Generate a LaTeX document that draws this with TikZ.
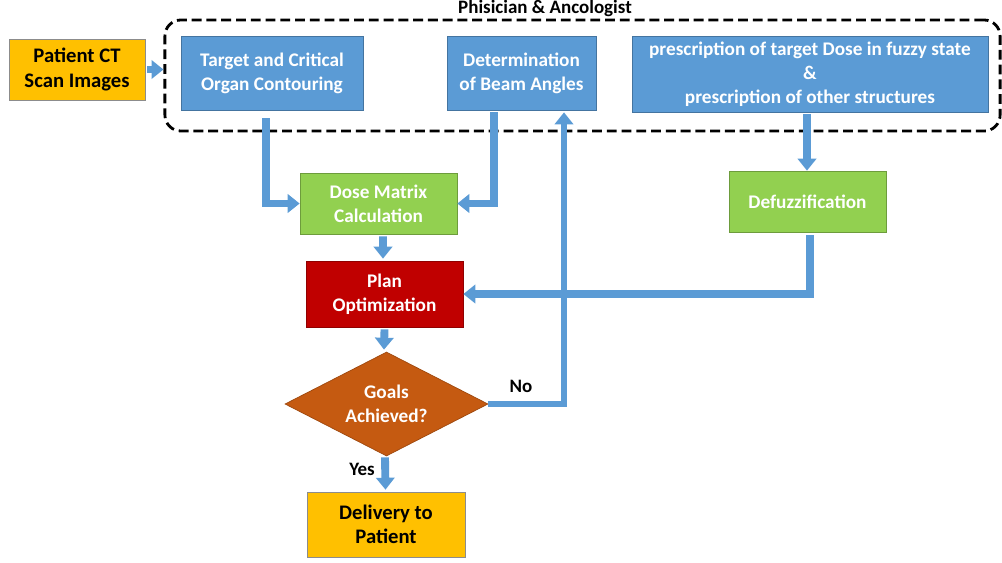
\documentclass[tikz,border=0pt]{standalone}
\usepackage{fontspec}
\setmainfont{Carlito}
\usepackage{xcolor}
\usetikzlibrary{calc,positioning,arrows.meta,shapes.geometric}
\definecolor{figBlue}{HTML}{5B9BD5}
\definecolor{figGreen}{HTML}{92D050}
\definecolor{figRed}{HTML}{C00000}
\definecolor{figOrange}{HTML}{C55A11}
\definecolor{figYellow}{HTML}{FFC000}

\begin{document}
\begin{tikzpicture}[
  x=0.025cm, y=-0.025cm,
  stepbox/.style={draw=#1!75!black, line width=0.5pt, fill=#1, align=center,
    inner sep=2pt, font=\bfseries\fontsize{13.7}{17}\selectfont, text=white},
  endbox/.style={draw=black!45, line width=0.5pt, fill=figYellow, align=center,
    inner sep=2pt, font=\bfseries\fontsize{14.7}{17.5}\selectfont, text=black},
  decision/.style={diamond, aspect=2, fill=figOrange, draw=figOrange!80!black,
    line width=0.5pt, align=center, inner sep=0pt,
    font=\bfseries\fontsize{13.7}{17}\selectfont, text=white},
  flow/.style={draw=figBlue, line width=5.6pt,
    -{Triangle[width=13pt,length=8.5pt]}},
  group/.style={draw=black, dashed, line width=2pt, dash pattern=on 7pt off 3.5pt,
    rounded corners=0.4cm},
  label/.style={font=\bfseries\fontsize{13.5}{15}\selectfont, text=black},
]
\useasboundingbox (0,0) rectangle (1002,562);

% === physician group ===
\node[group, minimum width=20.875cm, minimum height=2.775cm] (team) at (582.5,75.5) {};
\node[label, anchor=base, inner sep=0pt] (teamtitle) at (545,13) {Phisician \& Ancologist};

% === input ===
\node[endbox, minimum width=3.4cm, minimum height=1.525cm] (ct) at (77,69.5)
  {Patient CT\\Scan Images};

% === planning steps ===
\node[stepbox=figBlue, minimum width=4.55cm, minimum height=1.85cm] (target) at (272,73)
  {Target and Critical\\Organ Contouring};
\node[stepbox=figBlue, minimum width=3.725cm, minimum height=1.85cm] (beam) at (521.5,73)
  {Determination\\of Beam Angles};
\node[stepbox=figBlue, minimum width=8.9cm, minimum height=1.9cm] (presc) at (810,74)
  {prescription of target Dose in fuzzy state\\\&\\prescription of other structures};
\node[stepbox=figGreen, minimum width=3.925cm, minimum height=1.525cm] (dose) at (378.5,203.5)
  {Dose Matrix\\Calculation};
\node[stepbox=figGreen, minimum width=3.925cm, minimum height=1.525cm] (defuzz) at (807.5,201.5)
  {Defuzzification};
\node[stepbox=figRed, minimum width=3.925cm, minimum height=1.65cm] (plan) at (384.5,294)
  {Plan\\Optimization};
\node[decision, minimum width=5.075cm, minimum height=2.6cm] (goal) at (386.5,404)
  {Goals\\Achieved?};
\node[endbox, minimum width=3.95cm, minimum height=1.625cm] (deliver) at (386,524.5)
  {Delivery to\\Patient};

% === connectors ===
\draw[flow] (ct.east) ++(2,0) -- (team.west |- ct.east);
\draw[flow] ($(target.south)+(-6,8)$) |- (dose.west);
\draw[flow] ($(beam.south)+(-27.5,2)$) |- (dose.east);
\draw[flow] ($(presc.south)+(-3,2)$) -- (defuzz.north -| {$(presc.south)+(-3,0)$});
\draw[flow] ($(defuzz.south)+(2.5,3)$) |- (plan.east);
\draw[flow] ($(dose.south)+(4.5,2)$) -- ($(plan.north)+(-1.5,-2)$);
\draw[flow] ($(plan.south)+(0,2)$) -- ($(goal.north)+(-2.5,-2)$);
\draw[flow, line width=4.5pt] (goal.east) -| ($(beam.south)+(42.5,2)$);
\draw[flow] ($(goal.south)+(-1.5,1)$) -- ($(deliver.north)+(-0.5,-2)$);

% === branch labels ===
\node[label] (nolabel) at (521,386) {No};
\node[label] (yeslabel) at (362,469) {Yes};

\end{tikzpicture}
\end{document}
